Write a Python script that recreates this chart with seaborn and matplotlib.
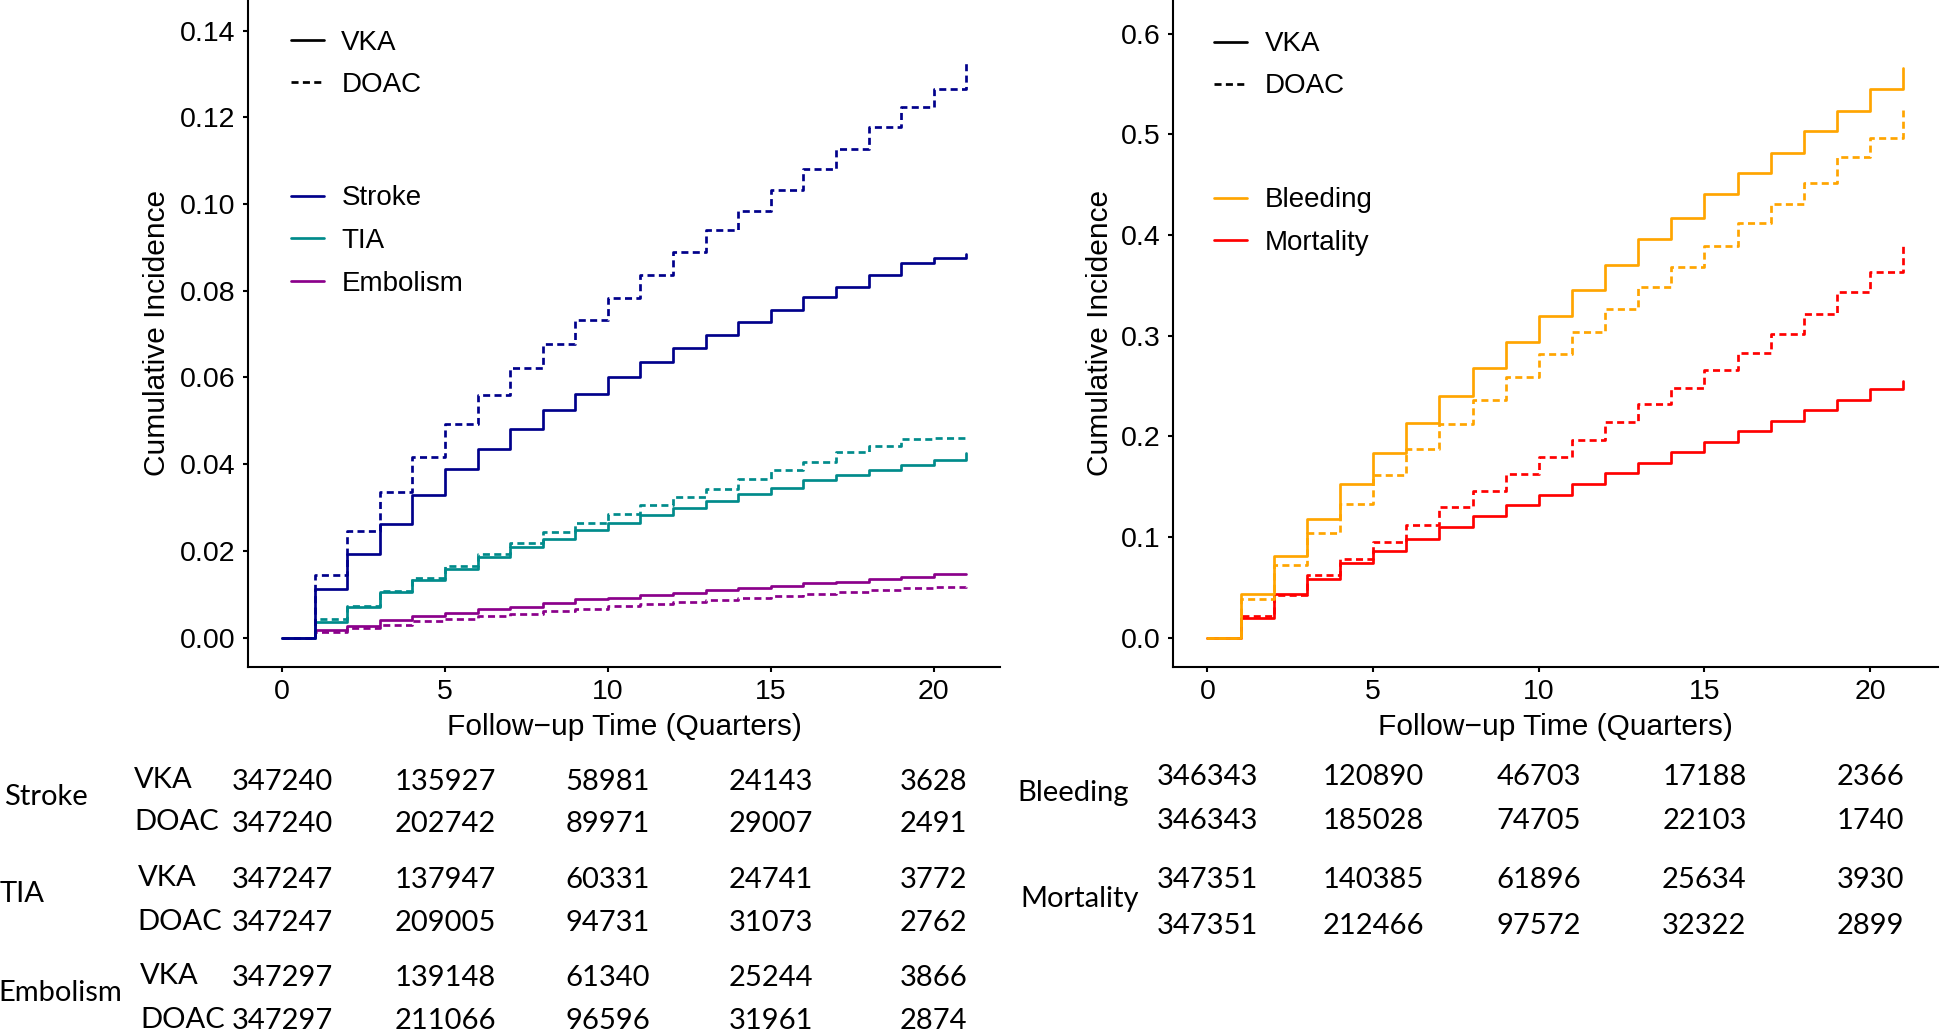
import numpy as np
import pandas as pd
import matplotlib
matplotlib.use("Agg")
import matplotlib.pyplot as plt
import seaborn as sns
from matplotlib.lines import Line2D
from matplotlib.transforms import blended_transform_factory

# follow-up quarters (value holds from t to t+1, last one is the final jump)
quarters = list(range(22))

stroke_vka = [0, 0.0111, 0.0192, 0.0263, 0.0328, 0.0388, 0.0435, 0.0482, 0.0525, 0.0562, 0.0602,
              0.0636, 0.0668, 0.0699, 0.0728, 0.0756, 0.0785, 0.0809, 0.0836, 0.0863, 0.0876, 0.0886]
stroke_doac = [0, 0.0145, 0.0245, 0.0335, 0.0417, 0.0493, 0.0559, 0.0622, 0.0678, 0.0732, 0.0783,
               0.0837, 0.0889, 0.0940, 0.0983, 0.1033, 0.1082, 0.1128, 0.1178, 0.1225, 0.1265, 0.1330]
tia_vka = [0, 0.0036, 0.0071, 0.0105, 0.0132, 0.0157, 0.0185, 0.0208, 0.0227, 0.0248, 0.0265,
           0.0282, 0.0299, 0.0315, 0.0331, 0.0345, 0.0363, 0.0376, 0.0386, 0.0398, 0.0409, 0.0426]
tia_doac = [0, 0.0042, 0.0073, 0.0108, 0.0138, 0.0166, 0.0193, 0.0219, 0.0243, 0.0265, 0.0284,
            0.0305, 0.0325, 0.0343, 0.0365, 0.0386, 0.0404, 0.0427, 0.0442, 0.0458, 0.0461, 0.0462]
emb_vka = [0, 0.0017, 0.0027, 0.0040, 0.0049, 0.0057, 0.0065, 0.0071, 0.0080, 0.0088, 0.0092,
           0.0098, 0.0103, 0.0109, 0.0114, 0.0119, 0.0125, 0.0129, 0.0135, 0.0140, 0.0146, 0.0147]
emb_doac = [0, 0.0012, 0.0021, 0.0028, 0.0037, 0.0043, 0.0049, 0.0055, 0.0061, 0.0066, 0.0072,
            0.0077, 0.0082, 0.0086, 0.0092, 0.0095, 0.0100, 0.0104, 0.0109, 0.0115, 0.0117, 0.0118]

bleed_vka = [0, 0.0432, 0.0809, 0.1181, 0.1525, 0.1838, 0.2135, 0.2400, 0.2677, 0.2934, 0.3198,
             0.3452, 0.3703, 0.3957, 0.4172, 0.4403, 0.4617, 0.4815, 0.5036, 0.5228, 0.5449, 0.5657]
bleed_doac = [0, 0.0380, 0.0716, 0.1036, 0.1327, 0.1614, 0.1871, 0.2119, 0.2356, 0.2587, 0.2818,
              0.3033, 0.3264, 0.3479, 0.3677, 0.3891, 0.4116, 0.4310, 0.4518, 0.4772, 0.4964, 0.5238]
mort_vka = [0, 0.0195, 0.0436, 0.0584, 0.0739, 0.0858, 0.0980, 0.1096, 0.1211, 0.1317, 0.1419,
            0.1525, 0.1630, 0.1736, 0.1845, 0.1944, 0.2049, 0.2149, 0.2257, 0.2356, 0.2470, 0.2545]
mort_doac = [0, 0.0218, 0.0419, 0.0617, 0.0782, 0.0954, 0.1122, 0.1294, 0.1459, 0.1624, 0.1789,
             0.1964, 0.2145, 0.2317, 0.2477, 0.2653, 0.2828, 0.3017, 0.3215, 0.3429, 0.3634, 0.3891]

# numbers at risk
table_times = [0, 5, 10, 15, 20]
risk_stroke_vka = [347240, 135927, 58981, 24143, 3628]
risk_stroke_doac = [347240, 202742, 89971, 29007, 2491]
risk_tia_vka = [347247, 137947, 60331, 24741, 3772]
risk_tia_doac = [347247, 209005, 94731, 31073, 2762]
risk_emb_vka = [347297, 139148, 61340, 25244, 3866]
risk_emb_doac = [347297, 211066, 96596, 31961, 2874]
risk_bleed_vka = [346343, 120890, 46703, 17188, 2366]
risk_bleed_doac = [346343, 185028, 74705, 22103, 1740]
risk_mort_vka = [347351, 140385, 61896, 25634, 3930]
risk_mort_doac = [347351, 212466, 97572, 32322, 2899]

left_colors = {"Stroke": "#00008B", "TIA": "#008B8B", "Embolism": "#8B008B"}
right_colors = {"Bleeding": "#FFA500", "Mortality": "#FF0000"}
line_dashes = {"VKA": "", "DOAC": (2.6, 1.6)}


def long_df(curves):
    rows = []
    for (outcome, drug), vals in curves.items():
        for t, v in zip(quarters, vals):
            rows.append({"quarter": t, "inc": v, "outcome": outcome, "drug": drug})
    return pd.DataFrame(rows)


left_df = long_df({("Stroke", "VKA"): stroke_vka, ("Stroke", "DOAC"): stroke_doac,
                   ("TIA", "VKA"): tia_vka, ("TIA", "DOAC"): tia_doac,
                   ("Embolism", "VKA"): emb_vka, ("Embolism", "DOAC"): emb_doac})
right_df = long_df({("Bleeding", "VKA"): bleed_vka, ("Bleeding", "DOAC"): bleed_doac,
                    ("Mortality", "VKA"): mort_vka, ("Mortality", "DOAC"): mort_doac})

sns.set_style("ticks")
plt.rcParams["font.family"] = ["Liberation Sans", "DejaVu Sans"]
plt.rcParams["text.color"] = "black"
plt.rcParams["axes.labelcolor"] = "black"
plt.rcParams["xtick.color"] = "black"
plt.rcParams["ytick.color"] = "black"

fig = plt.figure(figsize=(19.46, 10.31), dpi=100)
ax1 = fig.add_axes([0.1274, 0.3535, 0.3867, 0.6465])
ax2 = fig.add_axes([0.6026, 0.3535, 0.3933, 0.6465])

LW = 1.95
sns.lineplot(data=left_df, x="quarter", y="inc", hue="outcome", style="drug",
             hue_order=["Embolism", "TIA", "Stroke"], style_order=["DOAC", "VKA"],
             palette=left_colors, dashes=line_dashes, drawstyle="steps-post",
             linewidth=LW, errorbar=None, legend=False, ax=ax1)
sns.lineplot(data=right_df, x="quarter", y="inc", hue="outcome", style="drug",
             hue_order=["Mortality", "Bleeding"], style_order=["DOAC", "VKA"],
             palette=right_colors, dashes=line_dashes, drawstyle="steps-post",
             linewidth=LW, errorbar=None, legend=False, ax=ax2)

ax1.set_xlim(-1.05, 22.05)
ax1.set_ylim(-0.0067, 0.1471)
ax1.set_yticks(np.arange(0, 0.141, 0.02))
ax1.set_yticklabels([f"{v:.2f}" for v in np.arange(0, 0.141, 0.02)])
ax2.set_xlim(-1.05, 22.05)
ax2.set_ylim(-0.0288, 0.6333)
ax2.set_yticks(np.arange(0, 0.61, 0.1))
ax2.set_yticklabels([f"{v:.1f}" for v in np.arange(0, 0.61, 0.1)])

for ax, ylab_x in [(ax1, -0.102), (ax2, -0.077)]:
    ax.set_xticks([0, 5, 10, 15, 20])
    sns.despine(ax=ax)
    ax.spines["left"].set_linewidth(1.5)
    ax.spines["bottom"].set_linewidth(1.5)
    ax.spines["left"].set_color("black")
    ax.spines["bottom"].set_color("black")
    ax.tick_params(axis="both", labelsize=20.5, length=3.8, width=1.5, pad=5)
    ax.set_xlabel("Follow\u2212up Time (Quarters)", fontsize=21.5)
    ax.set_ylabel("Cumulative Incidence", fontsize=21.5)
    ax.xaxis.set_label_coords(0.5, -0.07)
    ax.yaxis.set_label_coords(ylab_x, 0.5)

# legends: linetype first, then colour
def add_legends(ax, colors, x0, y_top1, y_top2):
    type_handles = [Line2D([], [], color="black", lw=LW),
                    Line2D([], [], color="black", lw=LW, dashes=line_dashes["DOAC"])]
    leg1 = ax.legend(type_handles, ["VKA", "DOAC"], loc="upper left",
                     bbox_to_anchor=(x0, y_top1), frameon=False, fontsize=20,
                     handlelength=1.2, handletextpad=0.62, labelspacing=0.58,
                     borderpad=0, borderaxespad=0)
    ax.add_artist(leg1)
    col_handles = [Line2D([], [], color=c, lw=LW) for c in colors.values()]
    ax.legend(col_handles, list(colors.keys()), loc="upper left",
              bbox_to_anchor=(x0, y_top2), frameon=False, fontsize=20,
              handlelength=1.2, handletextpad=0.62, labelspacing=0.6,
              borderpad=0, borderaxespad=0)


add_legends(ax1, left_colors, 0.057, 0.955, 0.722)
add_legends(ax2, right_colors, 0.054, 0.953, 0.719)

# risk tables
tfont = dict(family=["Lato", "DejaVu Sans"], fontsize=21, color="black")


def risk_rows(ax, rows):
    trans = blended_transform_factory(ax.transData, fig.transFigure)
    for counts, y in rows:
        for t, n in zip(table_times, counts):
            ax.text(t, y, str(n), transform=trans, ha="center", va="center", **tfont)


risk_rows(ax1, [(risk_stroke_vka, 0.2419), (risk_stroke_doac, 0.2010),
                (risk_tia_vka, 0.1468), (risk_tia_doac, 0.1047),
                (risk_emb_vka, 0.0518), (risk_emb_doac, 0.0096)])
risk_rows(ax2, [(risk_bleed_vka, 0.2467), (risk_bleed_doac, 0.2034),
                (risk_mort_vka, 0.1462), (risk_mort_doac, 0.1023)])

for label, x, y in [("Stroke", 0.002, 0.2274), ("TIA", 0.0, 0.1324),
                    ("Embolism", -0.001, 0.0373),
                    ("Bleeding", 0.523, 0.2311), ("Mortality", 0.5242, 0.1276)]:
    fig.text(x, y, label, ha="left", va="center", **tfont)

for x, ys in [(0.0689, (0.2434, 0.2026)), (0.0708, (0.1482, 0.1059)),
              (0.0721, (0.0530, 0.0108))]:
    fig.text(x, ys[0], "VKA", ha="left", va="center", **tfont)
    fig.text(x, ys[1], "DOAC", ha="left", va="center", **tfont)

fig.savefig("out.png", dpi=100)
